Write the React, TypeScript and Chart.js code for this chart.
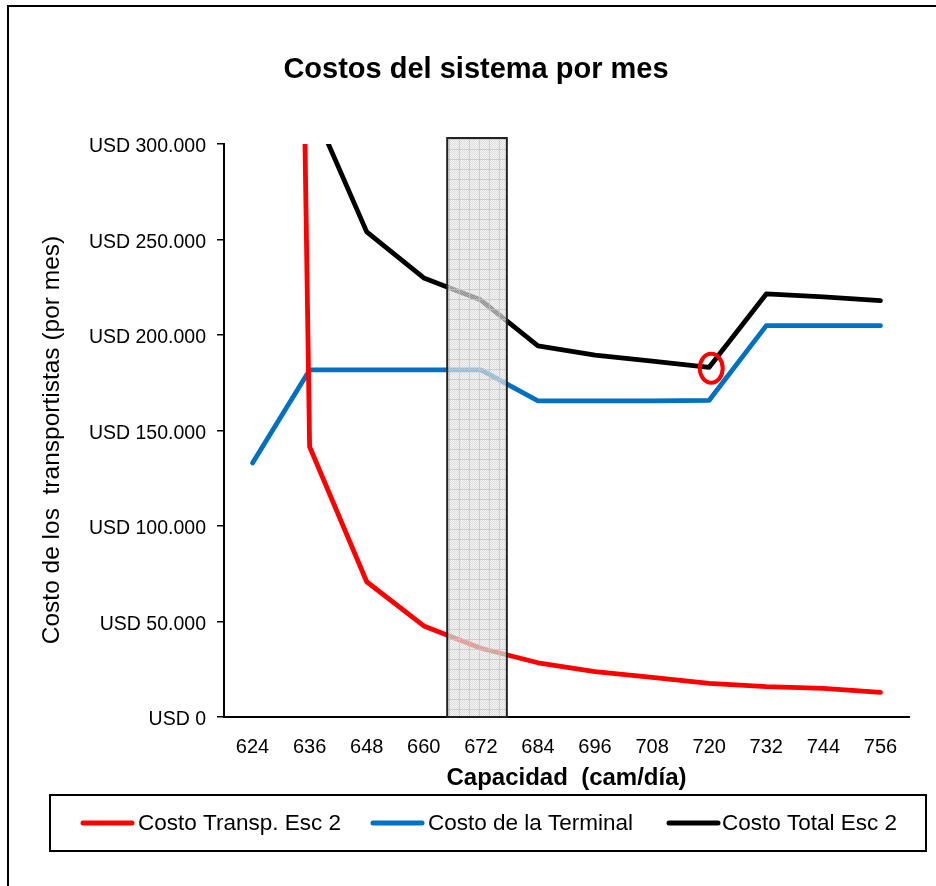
import React, { useEffect, useRef } from 'react';
import { Chart, registerables } from 'chart.js';

Chart.register(...registerables);

const capacidad = ['624', '636', '648', '660', '672', '684', '696', '708', '720', '732', '744', '756'];
const costoTransp = [2100000, 141500, 70800, 47700, 36000, 28400, 23700, 20800, 17600, 15900, 15000, 12900];
const costoTerminal = [133000, 181700, 181700, 181700, 181700, 165500, 165500, 165500, 165800, 204900, 204900, 204900];
const costoTotal = [2233000, 322500, 254000, 229900, 218300, 194300, 189500, 186300, 183100, 221500, 220000, 218000];

const seriesNames = ['Costo Transp. Esc 2', 'Costo de la Terminal', 'Costo Total Esc 2'];
const seriesColors = ['#FF0000', '#0070C0', '#000000'];

const chartTitle = 'Costos del sistema por mes';
const yTitle = 'Costo de los  transportistas (por mes)';
const xTitle = 'Capacidad  (cam/día)';

const FONT = '"Liberation Sans", Arial, sans-serif';

function fmtUSD(v: number): string {
  const s = Math.round(v).toString().replace(/\B(?=(\d{3})+(?!\d))/g, '.');
  return 'USD ' + s;
}

function makePattern(ctx: CanvasRenderingContext2D): CanvasPattern | string {
  const c = document.createElement('canvas');
  c.width = 10;
  c.height = 10;
  const p = c.getContext('2d');
  if (!p) return 'rgba(220,220,220,0.7)';
  for (let i = 0; i < 10; i++) {
    for (let j = 0; j < 10; j++) {
      p.fillStyle = (i + j) % 2 === 0 ? 'rgba(214,214,214,0.82)' : 'rgba(238,238,238,0.6)';
      p.fillRect(i, j, 1, 1);
    }
  }
  p.fillStyle = 'rgba(195,195,195,0.75)';
  p.fillRect(9, 0, 1, 10);
  p.fillRect(0, 9, 10, 1);
  return ctx.createPattern(c, 'repeat') || 'rgba(220,220,220,0.7)';
}

export default function App() {
  const ref = useRef<HTMLCanvasElement>(null);

  useEffect(() => {
    const canvas = ref.current;
    if (!canvas) return;

    const overlay = {
      id: 'overlay',
      beforeDraw(chart: any) {
        const ctx = chart.ctx as CanvasRenderingContext2D;
        ctx.save();
        ctx.fillStyle = '#ffffff';
        ctx.fillRect(0, 0, chart.width, chart.height);
        ctx.strokeStyle = '#000';
        ctx.lineWidth = 2;
        ctx.beginPath();
        ctx.moveTo(8, chart.height + 5);
        ctx.lineTo(8, 6);
        ctx.lineTo(chart.width + 5, 6);
        ctx.stroke();
        ctx.restore();
      },
      afterDatasetsDraw(chart: any) {
        const ctx = chart.ctx as CanvasRenderingContext2D;
        const xs = chart.scales.x;
        const ys = chart.scales.y;
        const area = chart.chartArea;
        const step = xs.getPixelForValue(1) - xs.getPixelForValue(0);
        const cx = xs.getPixelForValue(4);
        const left = cx - 0.59 * step;
        const right = cx + 0.455 * step;
        const top = area.top - 6;
        const bottom = area.bottom;
        ctx.save();
        ctx.fillStyle = makePattern(ctx);
        ctx.fillRect(left, top, right - left, bottom - top);
        ctx.strokeStyle = '#222';
        ctx.lineWidth = 2;
        ctx.strokeRect(left, top, right - left, bottom - top);
        // red circle marking the minimum
        const px = xs.getPixelForValue(8) + 2;
        const py = ys.getPixelForValue(costoTotal[8]) + 1;
        ctx.strokeStyle = '#FF0000';
        ctx.lineWidth = 4;
        ctx.beginPath();
        ctx.ellipse(px, py, 11.5, 14.5, 0, 0, Math.PI * 2);
        ctx.stroke();
        ctx.restore();
      },
      afterDraw(chart: any) {
        const ctx = chart.ctx as CanvasRenderingContext2D;
        const area = chart.chartArea;
        const ys = chart.scales.y;
        ctx.save();
        ctx.fillStyle = '#000';

        // y tick labels (from the scale's own ticks)
        ctx.font = '19.5px ' + FONT;
        ctx.textAlign = 'right';
        ctx.textBaseline = 'middle';
        for (const t of ys.ticks) {
          const y = ys.getPixelForValue(t.value);
          ctx.fillText(fmtUSD(t.value), area.left - 18, y + 3);
        }

        ctx.textAlign = 'center';
        ctx.font = 'bold 29px ' + FONT;
        ctx.fillText(chartTitle, 476, 70);
        ctx.font = 'bold 24px ' + FONT;
        ctx.fillText(xTitle, (area.left + area.right) / 2, 778);
        ctx.save();
        ctx.translate(52, 440);
        ctx.rotate(-Math.PI / 2);
        ctx.font = '24.5px ' + FONT;
        ctx.fillText(yTitle, 0, 0);
        ctx.restore();

        // legend box
        ctx.strokeStyle = '#000';
        ctx.lineWidth = 2;
        ctx.strokeRect(50, 795, 876, 56);
        const ly = 823;
        const starts = [83, 373, 669];
        const textX = [138, 428, 722];
        ctx.font = '22.5px ' + FONT;
        ctx.textAlign = 'left';
        for (let i = 0; i < 3; i++) {
          ctx.strokeStyle = seriesColors[i];
          ctx.lineWidth = 5;
          ctx.lineCap = 'round';
          ctx.beginPath();
          ctx.moveTo(starts[i], ly);
          ctx.lineTo(starts[i] + 49, ly);
          ctx.stroke();
          ctx.fillStyle = '#000';
          ctx.fillText(seriesNames[i], textX[i], ly + 1);
        }
        ctx.restore();
      },
    };

    const mk = (i: number, data: number[]) => ({
      label: seriesNames[i],
      data,
      borderColor: seriesColors[i],
      backgroundColor: seriesColors[i],
      borderWidth: 4.8,
      pointRadius: 0,
      pointHoverRadius: 0,
      tension: 0,
      fill: false,
      clip: 0,
      borderCapStyle: 'round' as const,
      borderJoinStyle: 'round' as const,
    });

    const chart = new Chart(canvas, {
      type: 'line',
      data: {
        labels: capacidad,
        datasets: [mk(0, costoTransp), mk(1, costoTerminal), mk(2, costoTotal)],
      },
      options: {
        animation: false,
        responsive: false,
        maintainAspectRatio: false,
        devicePixelRatio: 1,
        layout: { padding: { left: 0, top: 144, right: 27, bottom: 119 } },
        plugins: {
          legend: { display: false },
          title: { display: false },
          tooltip: { enabled: false },
        },
        scales: {
          x: {
            type: 'category',
            offset: true,
            grid: { display: false, drawTicks: false },
            border: { display: true, color: '#000', width: 2 },
            ticks: { color: '#000', font: { family: FONT, size: 20 }, padding: 18, autoSkip: false, maxRotation: 0 },
            afterFit: (s: any) => { s.height = 50; },
          },
          y: {
            min: 0,
            max: 300000,
            grid: { display: true, drawOnChartArea: false, drawTicks: true, tickLength: 7, color: '#000', lineWidth: 1.5 },
            border: { display: true, color: '#000', width: 2 },
            ticks: {
              stepSize: 50000,
              color: 'rgba(0,0,0,0)',
              font: { family: FONT, size: 19.5 },
              padding: 11,
              callback: (v: any) => fmtUSD(Number(v)),
            },
            afterFit: (s: any) => { s.width = 224; },
          },
        },
      },
      plugins: [overlay],
    });
    return () => chart.destroy();
  }, []);

  return (
    <div style={{ position: 'absolute', left: 0, top: 0, width: 936, height: 886 }}>
      <canvas ref={ref} width={936} height={886} style={{ width: 936, height: 886, display: 'block' }} />
    </div>
  );
}
